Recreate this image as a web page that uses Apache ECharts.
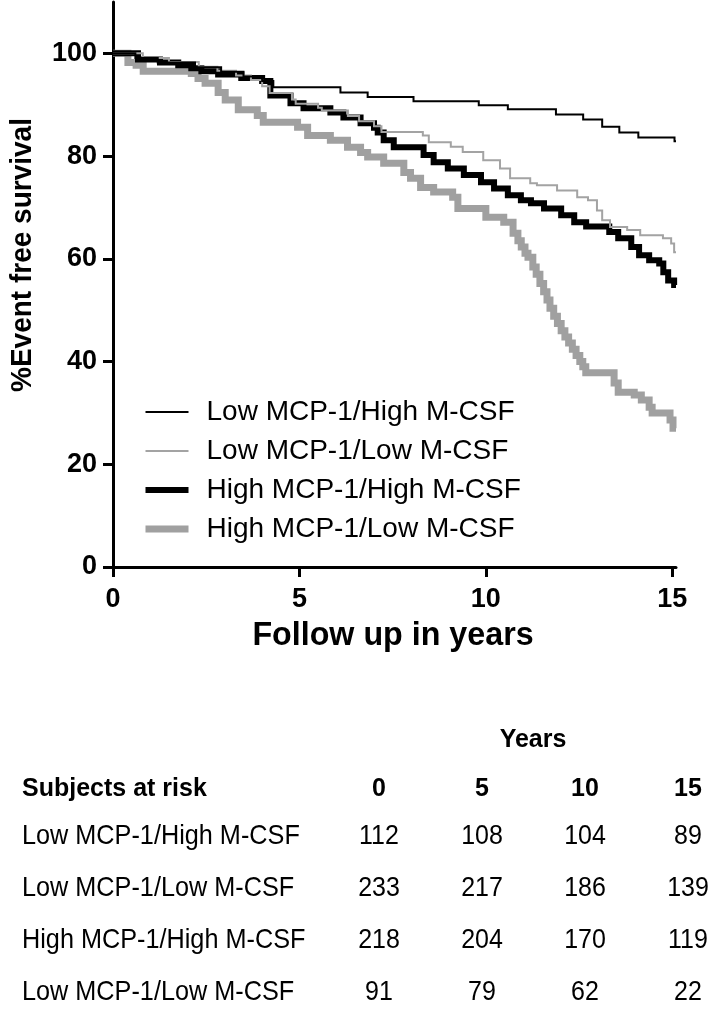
<!DOCTYPE html>
<html>
<head>
<meta charset="utf-8">
<script src="https://cdn.jsdelivr.net/npm/echarts@6/dist/echarts.min.js"></script>
<style>
  html, body { margin: 0; padding: 0; background: #fff; }
  #chart { width: 709px; height: 1010px; }
</style>
</head>
<body>
<div id="chart"></div>
<script>
// ---- Data ----
const seriesNames = ['Low MCP-1/High M-CSF', 'Low MCP-1/Low M-CSF', 'High MCP-1/High M-CSF', 'High MCP-1/Low M-CSF'];

const lowMcpHighMcsf = [
  [0,100],[0.6,99.1],[1.2,98.2],[2.2,97.3],[2.9,96.4],[3.5,95.5],[4.0,94.6],[4.3,93.4],
  [6.1,92.4],[6.83,91.5],[8.06,90.7],[9.81,89.9],[10.59,89.1],[11.88,88.1],[12.61,87.1],
  [13.12,85.7],[13.58,84.6],[14.09,83.6],[15.06,82.9],[15.1,82.9]
];

const lowMcpLowMcsf = [
  [0,100],[0.8,99.1],[1.5,98.3],[2.3,97.4],[2.8,96.6],[3.3,95.7],[3.7,94.8],[4.0,93.6],
  [4.2,92.3],[4.8,91.0],[4.9,90.2],[5.5,89.4],[5.6,88.9],[6.3,87.8],[6.6,86.8],[7.0,85.8],
  [7.2,84.7],[8.31,84.0],[8.47,82.7],[9.06,81.8],[9.38,80.8],[9.93,79.2],[10.38,77.6],
  [10.65,75.7],[11.19,74.7],[11.37,74.3],[11.91,73.3],[12.45,72.0],[12.74,71.4],
  [12.98,69.4],[13.12,67.5],[13.33,66.2],[13.79,65.6],[14.14,64.6],[14.75,64.0],
  [14.97,63.0],[15.05,61.3],[15.1,61.3]
];

const highMcpHighMcsf = [
  [0,100],[0.67,98.8],[1.26,98.2],[1.75,97.7],[2.1,97.1],[2.37,96.5],[2.82,95.9],[3.44,95.2],
  [4.0,94.6],[4.22,91.8],[4.76,90.3],[5.11,89.3],[5.83,88.5],[6.18,87.5],[6.64,86.4],
  [7.0,85.5],[7.1,84.6],[7.26,83.1],[7.53,81.7],[8.33,80.2],[8.6,78.8],[8.98,77.6],
  [9.41,76.3],[9.87,74.9],[10.22,73.7],[10.59,72.4],[10.94,71.4],[11.21,70.8],[11.56,69.8],
  [12.02,68.5],[12.37,67.1],[12.69,66.3],[13.31,65.2],[13.55,64.0],[13.9,62.3],[14.11,60.7],
  [14.38,59.7],[14.65,59.1],[14.76,57.4],[14.89,55.8],[15.05,54.9],[15.1,54.9]
];

const highMcpLowMcsf = [
  [0,100],[0.4,98.2],[0.62,97.7],[0.81,96.5],[2.1,96.1],[2.28,95.1],[2.47,94.2],[2.82,92.4],
  [3.01,90.9],[3.36,89.0],[3.87,87.9],[4.03,86.6],[4.95,85.6],[5.22,84.0],[5.83,83.1],
  [6.29,81.7],[6.64,80.7],[6.83,79.8],[7.26,78.6],[7.8,76.8],[7.98,75.7],[8.25,73.9],
  [8.6,73.0],[9.11,72.0],[9.25,69.8],[10.0,68.1],[10.48,67.1],[10.73,65.0],[10.86,63.5],
  [10.95,62.3],[11.05,61.1],[11.13,60.3],[11.26,58.4],[11.35,57.0],[11.45,55.2],[11.55,53.6],
  [11.64,52.0],[11.72,50.4],[11.82,48.8],[11.92,47.4],[12.02,46.0],[12.12,44.8],[12.22,43.6],
  [12.32,42.4],[12.42,41.2],[12.52,40.0],[12.6,39.0],[12.68,37.8],[13.44,35.8],[13.55,34.0],
  [13.98,33.5],[14.17,32.5],[14.38,31.1],[14.46,30.0],[14.94,28.6],[15.02,27.0],[15.1,27.0]
];

const xTicks = [0, 5, 10, 15];
const yTicks = [0, 20, 40, 60, 80, 100];

const tableTitle = 'Years';
const tableHeader = 'Subjects at risk';
const tableYears = ['0', '5', '10', '15'];
const tableGroups = ['Low MCP-1/High M-CSF', 'Low MCP-1/Low M-CSF', 'High MCP-1/High M-CSF', 'Low MCP-1/Low M-CSF'];
const atRisk = [
  [112, 108, 104, 89],
  [233, 217, 186, 139],
  [218, 204, 170, 119],
  [91, 79, 62, 22]
];

// ---- Chart ----
const FONT = '"Liberation Sans", Arial, Helvetica, sans-serif';
const chart = echarts.init(document.getElementById('chart'), null, { renderer: 'canvas' });

const colX = [379, 482, 585, 688];
const rowY = [836, 888, 940, 992];
const graphics = [];
function txt(x, y, text, font, align, extra) {
  return Object.assign({ type: 'text', x: x, y: y,
    style: { text: text, font: font, fill: '#000', align: align, verticalAlign: 'middle' } }, extra || {});
}
graphics.push(txt(23, 255, '%Event free survival', 'bold 28px ' + FONT, 'center', { rotation: Math.PI / 2, scaleY: 1.04 }));
graphics.push(txt(393, 636, 'Follow up in years', 'bold 31px ' + FONT, 'center', { scaleX: 1.04, scaleY: 1.08 }));
graphics.push(txt(533, 740, tableTitle, 'bold 25px ' + FONT, 'center'));
graphics.push(txt(22, 789, tableHeader, 'bold 25px ' + FONT, 'left', { scaleY: 1.06 }));
tableYears.forEach((y, i) => graphics.push(txt(colX[i], 789, y, 'bold 25px ' + FONT, 'center', { scaleY: 1.06 })));
tableGroups.forEach((g, r) => {
  graphics.push(txt(22, rowY[r], g, '25px ' + FONT, 'left', { scaleX: 1.01, scaleY: 1.1 }));
  atRisk[r].forEach((v, c) => graphics.push(txt(colX[c], rowY[r], String(v), '25px ' + FONT, 'center', { scaleY: 1.1 })));
});

const styles = [
  { color: '#000000', width: 2 },
  { color: '#a3a3a3', width: 2 },
  { color: '#000000', width: 6 },
  { color: '#a0a0a0', width: 7 }
];
const datasets = [lowMcpHighMcsf, lowMcpLowMcsf, highMcpHighMcsf, highMcpLowMcsf];
const drawOrder = [3, 2, 1, 0];

const option = {
  animation: false,
  backgroundColor: '#fff',
  grid: { left: 113, right: 33, top: 2, bottom: 443, containLabel: false },
  xAxis: {
    type: 'value', min: 0, max: 15.1, interval: 5,
    axisLine: { lineStyle: { color: '#000', width: 3 } },
    axisTick: { show: true, length: 10, lineStyle: { color: '#000', width: 3 }, customValues: xTicks },
    axisLabel: { margin: 19, color: '#000', fontFamily: FONT, fontWeight: 'bold', fontSize: 27, customValues: xTicks },
    splitLine: { show: false }
  },
  yAxis: {
    type: 'value', min: 0, max: 110, interval: 20,
    axisLine: { show: true, lineStyle: { color: '#000', width: 3 } },
    axisTick: { show: true, length: 10, lineStyle: { color: '#000', width: 3 }, customValues: yTicks },
    axisLabel: { margin: 16, color: '#000', fontFamily: FONT, fontWeight: 'bold', fontSize: 27, customValues: yTicks },
    splitLine: { show: false }
  },
  legend: {
    orient: 'vertical', left: 137, top: 393, itemWidth: 43, itemHeight: 14, itemGap: 11,
    selectedMode: false,
    itemStyle: { opacity: 0 },
    textStyle: { fontFamily: FONT, fontSize: 28, color: '#000', lineHeight: 28, padding: [0, 0, 0, 13] },
    data: seriesNames.map((n, i) => ({ name: n, lineStyle: { width: styles[i].width, color: styles[i].color } }))
  },
  series: drawOrder.map(i => ({
    name: seriesNames[i], type: 'line', step: 'end', symbol: 'none', showSymbol: false,
    data: datasets[i],
    lineStyle: { color: styles[i].color, width: styles[i].width, cap: 'butt', join: 'miter' },
    itemStyle: { color: styles[i].color },
    emphasis: { disabled: true },
    z: 2 + drawOrder.indexOf(i)
  })),
  graphic: graphics
};
chart.setOption(option);
</script>
</body>
</html>
